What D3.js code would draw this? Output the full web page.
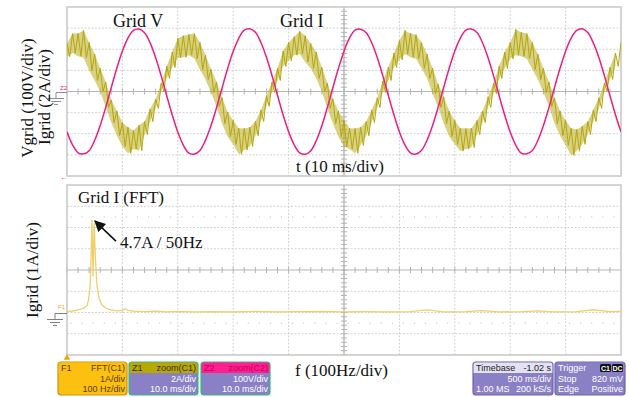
<!DOCTYPE html>
<html>
<head>
<meta charset="utf-8">
<script src="https://cdn.jsdelivr.net/npm/d3@7"></script>
<style>
  body { margin: 0; background: #fff; }
  svg { display: block; }
</style>
</head>
<body>
<div id="chart"></div>
<script>
// ---- data ----
// top screen: 10 ms/div, 8 vertical div; values in divisions
const timeDivs = [0, 10, 20, 30, 40, 50, 60, 70, 80, 90, 100];
const ampDivs = [-4, -3, -2, -1, 0, 1, 2, 3, 4];

// pink trace, one sample per ms
const pinkStepMs = 1;
const pinkTrace = [
  -1.91, -2.53, -2.90, -2.95, -2.80, -2.31, -1.60, -0.74, 0.20, 1.11,
  1.92, 2.53, 2.89, 2.96, 2.78, 2.30, 1.60, 0.74, -0.20, -1.11,
  -1.92, -2.54, -2.92, -2.96, -2.79, -2.30, -1.61, -0.76, 0.18, 1.09,
  1.90, 2.52, 2.90, 2.97, 2.80, 2.32, 1.62, 0.76, -0.18, -1.10,
  -1.90, -2.52, -2.91, -2.97, -2.80, -2.32, -1.62, -0.75, 0.19, 1.10,
  1.91, 2.54, 2.91, 2.95, 2.78, 2.31, 1.61, 0.75, -0.19, -1.09,
  -1.91, -2.53, -2.90, -2.96, -2.78, -2.30, -1.60, -0.74, 0.20, 1.11,
  1.92, 2.53, 2.90, 2.96, 2.79, 2.31, 1.60, 0.74, -0.20, -1.11,
  -1.92, -2.54, -2.92, -2.95, -2.79, -2.31, -1.61, -0.75, 0.19, 1.10,
  1.91, 2.53, 2.89, 2.97, 2.79, 2.30, 1.61, 0.75, -0.19, -1.10,
  -1.91
];

// olive trace, peak-detect pairs (max / min) every 0.5 ms
const oliveStepMs = 0.5;
const oliveTrace = [
  2.27, 1.65, 2.74, 1.82, 2.75, 1.67, 2.89, 1.60, 2.32, 0.99,
  1.77, 0.52, 1.10, 0.00, 0.45, -0.75, -0.40, -1.47, -0.92, -2.09,
  -1.47, -2.60, -1.69, -2.92, -1.85, -2.72, -1.59, -2.80, -1.42, -2.04,
  -0.82, -1.42, -0.35, -0.80, 0.40, 0.00, 1.20, 0.62, 1.87, 1.14,
  2.52, 1.60, 2.64, 1.62, 2.70, 1.72, 2.74, 1.55, 2.32, 1.04,
  1.72, 0.57, 1.05, -0.05, 0.45, -0.70, -0.30, -1.52, -0.97, -2.14,
  -1.37, -2.50, -1.74, -2.97, -1.75, -2.77, -1.69, -2.60, -1.42, -2.09,
  -0.87, -1.42, -0.20, -0.70, 0.45, -0.05, 1.10, 0.52, 1.92, 1.19,
  2.32, 1.45, 2.59, 1.72, 2.85, 1.77, 2.64, 1.40, 2.27, 1.09,
  1.87, 0.62, 1.15, 0.00, 0.40, -0.80, -0.35, -1.52, -0.92, -2.14,
  -1.37, -2.60, -1.74, -2.72, -1.75, -2.92, -1.69, -2.55, -1.42, -2.09,
  -0.87, -1.47, -0.30, -0.75, 0.50, -0.05, 1.15, 0.52, 1.82, 1.14,
  2.42, 1.50, 2.89, 1.77, 2.75, 1.62, 2.69, 1.55, 2.32, 1.09,
  1.77, 0.62, 1.10, -0.10, 0.35, -0.75, -0.25, -1.52, -0.92, -2.14,
  -1.37, -2.50, -1.74, -2.82, -1.75, -2.72, -1.74, -2.65, -1.37, -2.04,
  -0.92, -1.47, -0.25, -0.75, 0.40, -0.10, 1.20, 0.62, 1.87, 1.09,
  2.32, 1.55, 2.94, 1.72, 2.80, 1.67, 2.74, 1.55, 2.32, 1.04,
  1.77, 0.57, 1.10, -0.05, 0.45, -0.70, -0.30, -1.52, -0.92, -2.09,
  -1.37, -2.55, -1.74, -3.02, -1.80, -2.82, -1.64, -2.50, -1.42, -2.04,
  -0.87, -1.42, -0.30, -0.80, 0.40, 0.00, 1.15, 0.57, 1.82, 1.19,
  2.32
];

// bottom screen: FFT, 100 Hz/div, 1 A/div
const freqDivs = [0, 100, 200, 300, 400, 500, 600, 700, 800, 900, 1000];
const fftDivs = [-2, -1, 0, 1, 2, 3, 4, 5, 6];
const fftFreq = [0, 10, 20, 30, 36, 39, 42, 44, 45, 47, 49, 51, 54, 58, 63, 70, 80, 90, 100,
  105, 110, 120, 140, 160, 180, 200, 230, 260, 300, 340, 380, 420, 460, 500, 540, 580,
  620, 650, 680, 720, 750, 780, 820, 850, 880, 920, 950, 980, 1000];
const fftAmp = [0.05, 0.07, 0.12, 0.2, 0.32, 0.6, 1.3, 3.2, 4.35, 1.7, 4.2, 2.7, 1.3, 0.65, 0.35,
  0.2, 0.12, 0.08, 0.1, 0.18, 0.1, 0.06, 0.04, 0.06, 0.03, 0.05, 0.03, 0.04, 0.03, 0.05,
  0.03, 0.04, 0.05, 0.03, 0.04, 0.03, 0.04, 0.12, 0.03, 0.04, 0.09, 0.03, 0.04, 0.08, 0.03,
  0.04, 0.13, 0.04, 0.05];

// status bar text (left cell, right cell per row)
const traceBoxRows = [
  [["F1", "FFT(C1)"], ["", "1A/div"], ["", "100 Hz/div"]],
  [["Z1", "zoom(C1)"], ["", "2A/div"], ["", "10.0 ms/div"]],
  [["Z2", "zoom(C2)"], ["", "100V/div"], ["", "10.0 ms/div"]]
];
const timebaseRows = [["Timebase", "-1.02 s"], ["", "500 ms/div"], ["1.00 MS", "200 kS/s"]];
const triggerRows = [["Trigger", ""], ["Stop", "820 mV"], ["Edge", "Positive"]];
const triggerBadges = ["C1", "DC"];

// ---- layout ----
const W = 629, H = 397;
const serif = "'Liberation Serif', 'Times New Roman', serif";
const sans = "'Liberation Sans', Arial, sans-serif";
const pink = "#ec1f80", olive = "#b4a60c", fftColor = "#efcf68";

const svg = d3.select("#chart").append("svg")
  .attr("width", W).attr("height", H)
  .style("background", "#fff");

const topBox = { x0: 67, x1: 621, y0: 7, y1: 176 };
const botBox = { x0: 67, x1: 621, y0: 185, y1: 355 };

const xT = d3.scaleLinear().domain([0, 100]).range([topBox.x0, topBox.x1]);
const yT = d3.scaleLinear().domain([-4, 4]).range([topBox.y1, topBox.y0]);
const xF = d3.scaleLinear().domain([0, 1000]).range([botBox.x0, botBox.x1]);
const yF = d3.scaleLinear().domain([-2, 6]).range([botBox.y1, botBox.y0]);

// draws the graticule of one scope screen
function drawGraticule(box, x, y, xTicks, yTicks, xMid, yMid, id) {
  const g = svg.append("g");
  g.append("rect")
    .attr("x", box.x0).attr("y", box.y0)
    .attr("width", box.x1 - box.x0).attr("height", box.y1 - box.y0)
    .attr("fill", "#fff");

  g.selectAll(".vg").data(xTicks.slice(1, -1)).join("line")
    .attr("x1", d => x(d)).attr("x2", d => x(d))
    .attr("y1", box.y0).attr("y2", box.y1)
    .attr("stroke", d => d === xMid ? "#a8a8a8" : "#d2d2d2")
    .attr("stroke-width", d => d === xMid ? 1.2 : 1)
    .attr("stroke-dasharray", d => d === xMid ? null : "2,1.5");

  g.selectAll(".hg").data(yTicks.slice(1, -1)).join("line")
    .attr("x1", box.x0).attr("x2", box.x1)
    .attr("y1", d => y(d)).attr("y2", d => y(d))
    .attr("stroke", d => d === yMid ? "#b4b4b4" : "#d2d2d2")
    .attr("stroke-dasharray", d => d === yMid ? null : "2,1.5");

  // minor ticks along the centre lines, 5 per division
  const xStep = (xTicks[1] - xTicks[0]) / 5;
  const yStep = (yTicks[1] - yTicks[0]) / 5;
  const xMinor = d3.range(xTicks[0], xTicks[xTicks.length - 1], xStep);
  const yMinor = d3.range(yTicks[0], yTicks[yTicks.length - 1], yStep);
  g.selectAll(".xt").data(xMinor).join("line")
    .attr("x1", d => x(d)).attr("x2", d => x(d))
    .attr("y1", y(yMid) - 3).attr("y2", y(yMid) + 3)
    .attr("stroke", "#b4b4b4");
  g.selectAll(".yt").data(yMinor).join("line")
    .attr("x1", x(xMid) - 3).attr("x2", x(xMid) + 3)
    .attr("y1", d => y(d)).attr("y2", d => y(d))
    .attr("stroke", "#b4b4b4");

  g.append("rect")
    .attr("x", box.x0).attr("y", box.y0)
    .attr("width", box.x1 - box.x0).attr("height", box.y1 - box.y0)
    .attr("fill", "none").attr("stroke", "#c6c6c6").attr("stroke-width", 1.5);

  svg.append("clipPath").attr("id", id)
    .append("rect")
    .attr("x", box.x0).attr("y", box.y0)
    .attr("width", box.x1 - box.x0).attr("height", box.y1 - box.y0);
}

drawGraticule(topBox, xT, yT, timeDivs, ampDivs, 50, 0, "clipTop");
drawGraticule(botBox, xF, yF, freqDivs, fftDivs, 500, 2, "clipBot");

// dotted marker rows on the FFT screen (±2.5 div around centre)
const fftMarkRows = [-0.5, 4.5];
const markDots = d3.range(0, 1000, 20);
svg.append("g").selectAll("g").data(fftMarkRows).join("g")
  .selectAll("circle").data(r => markDots.map(f => [f, r])).join("circle")
  .attr("cx", d => xF(d[0]) + 4).attr("cy", d => yF(d[1]))
  .attr("r", 0.6).attr("fill", "#c4c4c4");

// ---- traces ----
// olive: max/min pairs -> filled envelope band, then the raw zigzag on top
const olivePairs = d3.range(0, oliveTrace.length - 1, 2).map(i => ({
  t: i * oliveStepMs, hi: oliveTrace[i], lo: oliveTrace[i + 1]
}));
const oliveBand = d3.area()
  .x(d => xT(d.t))
  .y0(d => yT(d.lo))
  .y1(d => yT(d.hi));
svg.append("path")
  .datum(olivePairs)
  .attr("clip-path", "url(#clipTop)")
  .attr("d", oliveBand)
  .attr("fill", olive)
  .attr("fill-opacity", 0.5);

const oliveLine = d3.line()
  .x((d, i) => xT(i * oliveStepMs))
  .y(d => yT(d));
svg.append("path")
  .datum(oliveTrace)
  .attr("clip-path", "url(#clipTop)")
  .attr("d", oliveLine)
  .attr("fill", "none")
  .attr("stroke", olive)
  .attr("stroke-width", 1);

const pinkLine = d3.line()
  .x((d, i) => xT(i * pinkStepMs))
  .y(d => yT(d))
  .curve(d3.curveCatmullRom);
svg.append("path")
  .datum(pinkTrace)
  .attr("clip-path", "url(#clipTop)")
  .attr("d", pinkLine)
  .attr("fill", "none")
  .attr("stroke", pink)
  .attr("stroke-width", 1.5);

const fftLine = d3.line()
  .x((d, i) => xF(fftFreq[i]))
  .y(d => yF(d));
svg.append("path")
  .datum(fftAmp)
  .attr("clip-path", "url(#clipBot)")
  .attr("d", fftLine)
  .attr("fill", "none")
  .attr("stroke", fftColor)
  .attr("stroke-width", 1.3);

// ---- channel markers on the left edge ----
function ground(gx, gy, color) {
  const g = svg.append("g").attr("stroke", color).attr("stroke-width", 1);
  g.append("line").attr("x1", gx).attr("x2", topBox.x0).attr("y1", gy).attr("y2", gy);
  g.append("line").attr("x1", gx).attr("x2", gx).attr("y1", gy).attr("y2", gy + 6);
  g.append("line").attr("x1", gx - 8).attr("x2", gx + 8).attr("y1", gy + 6).attr("y2", gy + 6);
  g.append("line").attr("x1", gx - 5).attr("x2", gx + 5).attr("y1", gy + 9).attr("y2", gy + 9);
  g.append("line").attr("x1", gx - 2).attr("x2", gx + 2).attr("y1", gy + 12).attr("y2", gy + 12);
}
ground(55, yF(0) + 1, "#808080");
ground(56, yT(0) + 1, "#909090");

svg.append("text").attr("x", 60).attr("y", yT(0) - 2)
  .attr("font-family", sans).attr("font-size", 6).attr("fill", pink).text("Z2");
svg.append("text").attr("x", 58).attr("y", yF(0) - 4)
  .attr("font-family", sans).attr("font-size", 6).attr("fill", "#e8b020").text("F1");
svg.append("text").attr("x", 60).attr("y", topBox.y1 + 4)
  .attr("font-family", sans).attr("font-size", 8).attr("fill", pink).text("←");
svg.append("path")
  .attr("d", d3.symbol(d3.symbolTriangle, 18)())
  .attr("transform", `translate(${botBox.x0},${botBox.y1 + 3})`)
  .attr("fill", "#f2a500");

// ---- annotations ----
function label(x, y, txt, size = 17) {
  return svg.append("text")
    .attr("x", x).attr("y", y)
    .attr("font-family", serif).attr("font-size", size)
    .attr("fill", "#111").text(txt);
}
label(113, 27, "Grid V", 18);
label(280, 27, "Grid I", 18);
label(296, 172, "t (10 ms/div)");
label(78, 203, "Grid I (FFT)");
label(120, 248, "4.7A / 50Hz");
label(295, 376, "f (100Hz/div)");

function vLabel(cx, cy, txt) {
  svg.append("text")
    .attr("transform", `translate(${cx},${cy}) rotate(-90)`)
    .attr("text-anchor", "middle")
    .attr("font-family", serif).attr("font-size", 17)
    .attr("fill", "#111").text(txt);
}
vLabel(33, 98, "Vgrid (100V/div)");
vLabel(50, 97, "Igrid (2A/div)");
vLabel(38, 270, "Igrid (1A/div)");

// arrow to the 50 Hz peak
const peakI = fftAmp.indexOf(d3.max(fftAmp));
const tip = [xF(fftFreq[peakI]) + 3, yF(fftAmp[peakI]) + 1];
svg.append("defs").append("marker")
  .attr("id", "arrowHead")
  .attr("viewBox", "0 0 10 10").attr("refX", 9).attr("refY", 5)
  .attr("markerWidth", 7).attr("markerHeight", 7)
  .attr("orient", "auto")
  .append("path").attr("d", "M0,0 L10,5 L0,10 z").attr("fill", "#111");
svg.append("line")
  .attr("x1", tip[0] + 21).attr("y1", tip[1] + 20)
  .attr("x2", tip[0]).attr("y2", tip[1])
  .attr("stroke", "#111").attr("stroke-width", 1.6)
  .attr("marker-end", "url(#arrowHead)");

// ---- status bar ----
const boxTop = 362, boxH = 33, headH = 11;
const traceBoxX = [58, 129, 201];
const traceBoxW = 69;
const traceStyles = [
  { head: "#fcc010", body: "#fcc010", border: "#c99214", headText: "#5a3a00", bodyText: "#5a3a00" },
  { head: "#b8a800", body: "#8a80c6", border: "#2ec07a", headText: "#333300", bodyText: "#fff" },
  { head: "#ff1f8e", body: "#8a80c6", border: "#2ec07a", headText: "#c2005c", bodyText: "#fff" }
];

function statusBox(x, w, rows, st) {
  const g = svg.append("g");
  g.append("rect").attr("x", x).attr("y", boxTop).attr("width", w).attr("height", boxH)
    .attr("rx", 3).attr("fill", st.body).attr("stroke", st.border).attr("stroke-width", 1.2);
  g.append("path")
    .attr("d", `M${x + 0.6},${boxTop + headH} V${boxTop + 3} Q${x + 0.6},${boxTop + 0.6} ${x + 3},${boxTop + 0.6} H${x + w - 3} Q${x + w - 0.6},${boxTop + 0.6} ${x + w - 0.6},${boxTop + 3} V${boxTop + headH} Z`)
    .attr("fill", st.head);
  rows.forEach((r, i) => {
    const by = boxTop + 9 + i * 10.5;
    const col = i === 0 ? st.headText : st.bodyText;
    g.append("text").attr("x", x + 3).attr("y", by)
      .attr("font-family", sans).attr("font-size", 9).attr("fill", col).text(r[0]);
    g.append("text").attr("x", x + w - 2).attr("y", by).attr("text-anchor", "end")
      .attr("font-family", sans).attr("font-size", 9).attr("fill", col).text(r[1]);
  });
  return g;
}

traceBoxRows.forEach((rows, i) => statusBox(traceBoxX[i], traceBoxW, rows, traceStyles[i]));

statusBox(473, 80, timebaseRows,
  { head: "#e4e2f2", body: "#8a80c6", border: "#6d64ac", headText: "#222", bodyText: "#fff" });
const trig = statusBox(555, 70, triggerRows,
  { head: "#8a80c6", body: "#8a80c6", border: "#6d64ac", headText: "#fff", bodyText: "#fff" });

// C1 / DC badges in the trigger header
triggerBadges.forEach((b, i) => {
  const bx = 600 + i * 12;
  trig.append("rect").attr("x", bx).attr("y", boxTop + 2).attr("width", 11).attr("height", 8)
    .attr("rx", 1.5).attr("fill", "#111");
  trig.append("text").attr("x", bx + 5.5).attr("y", boxTop + 8.8).attr("text-anchor", "middle")
    .attr("font-family", sans).attr("font-size", 7).attr("font-weight", "bold")
    .attr("fill", "#fff").text(b);
});
</script>
</body>
</html>
